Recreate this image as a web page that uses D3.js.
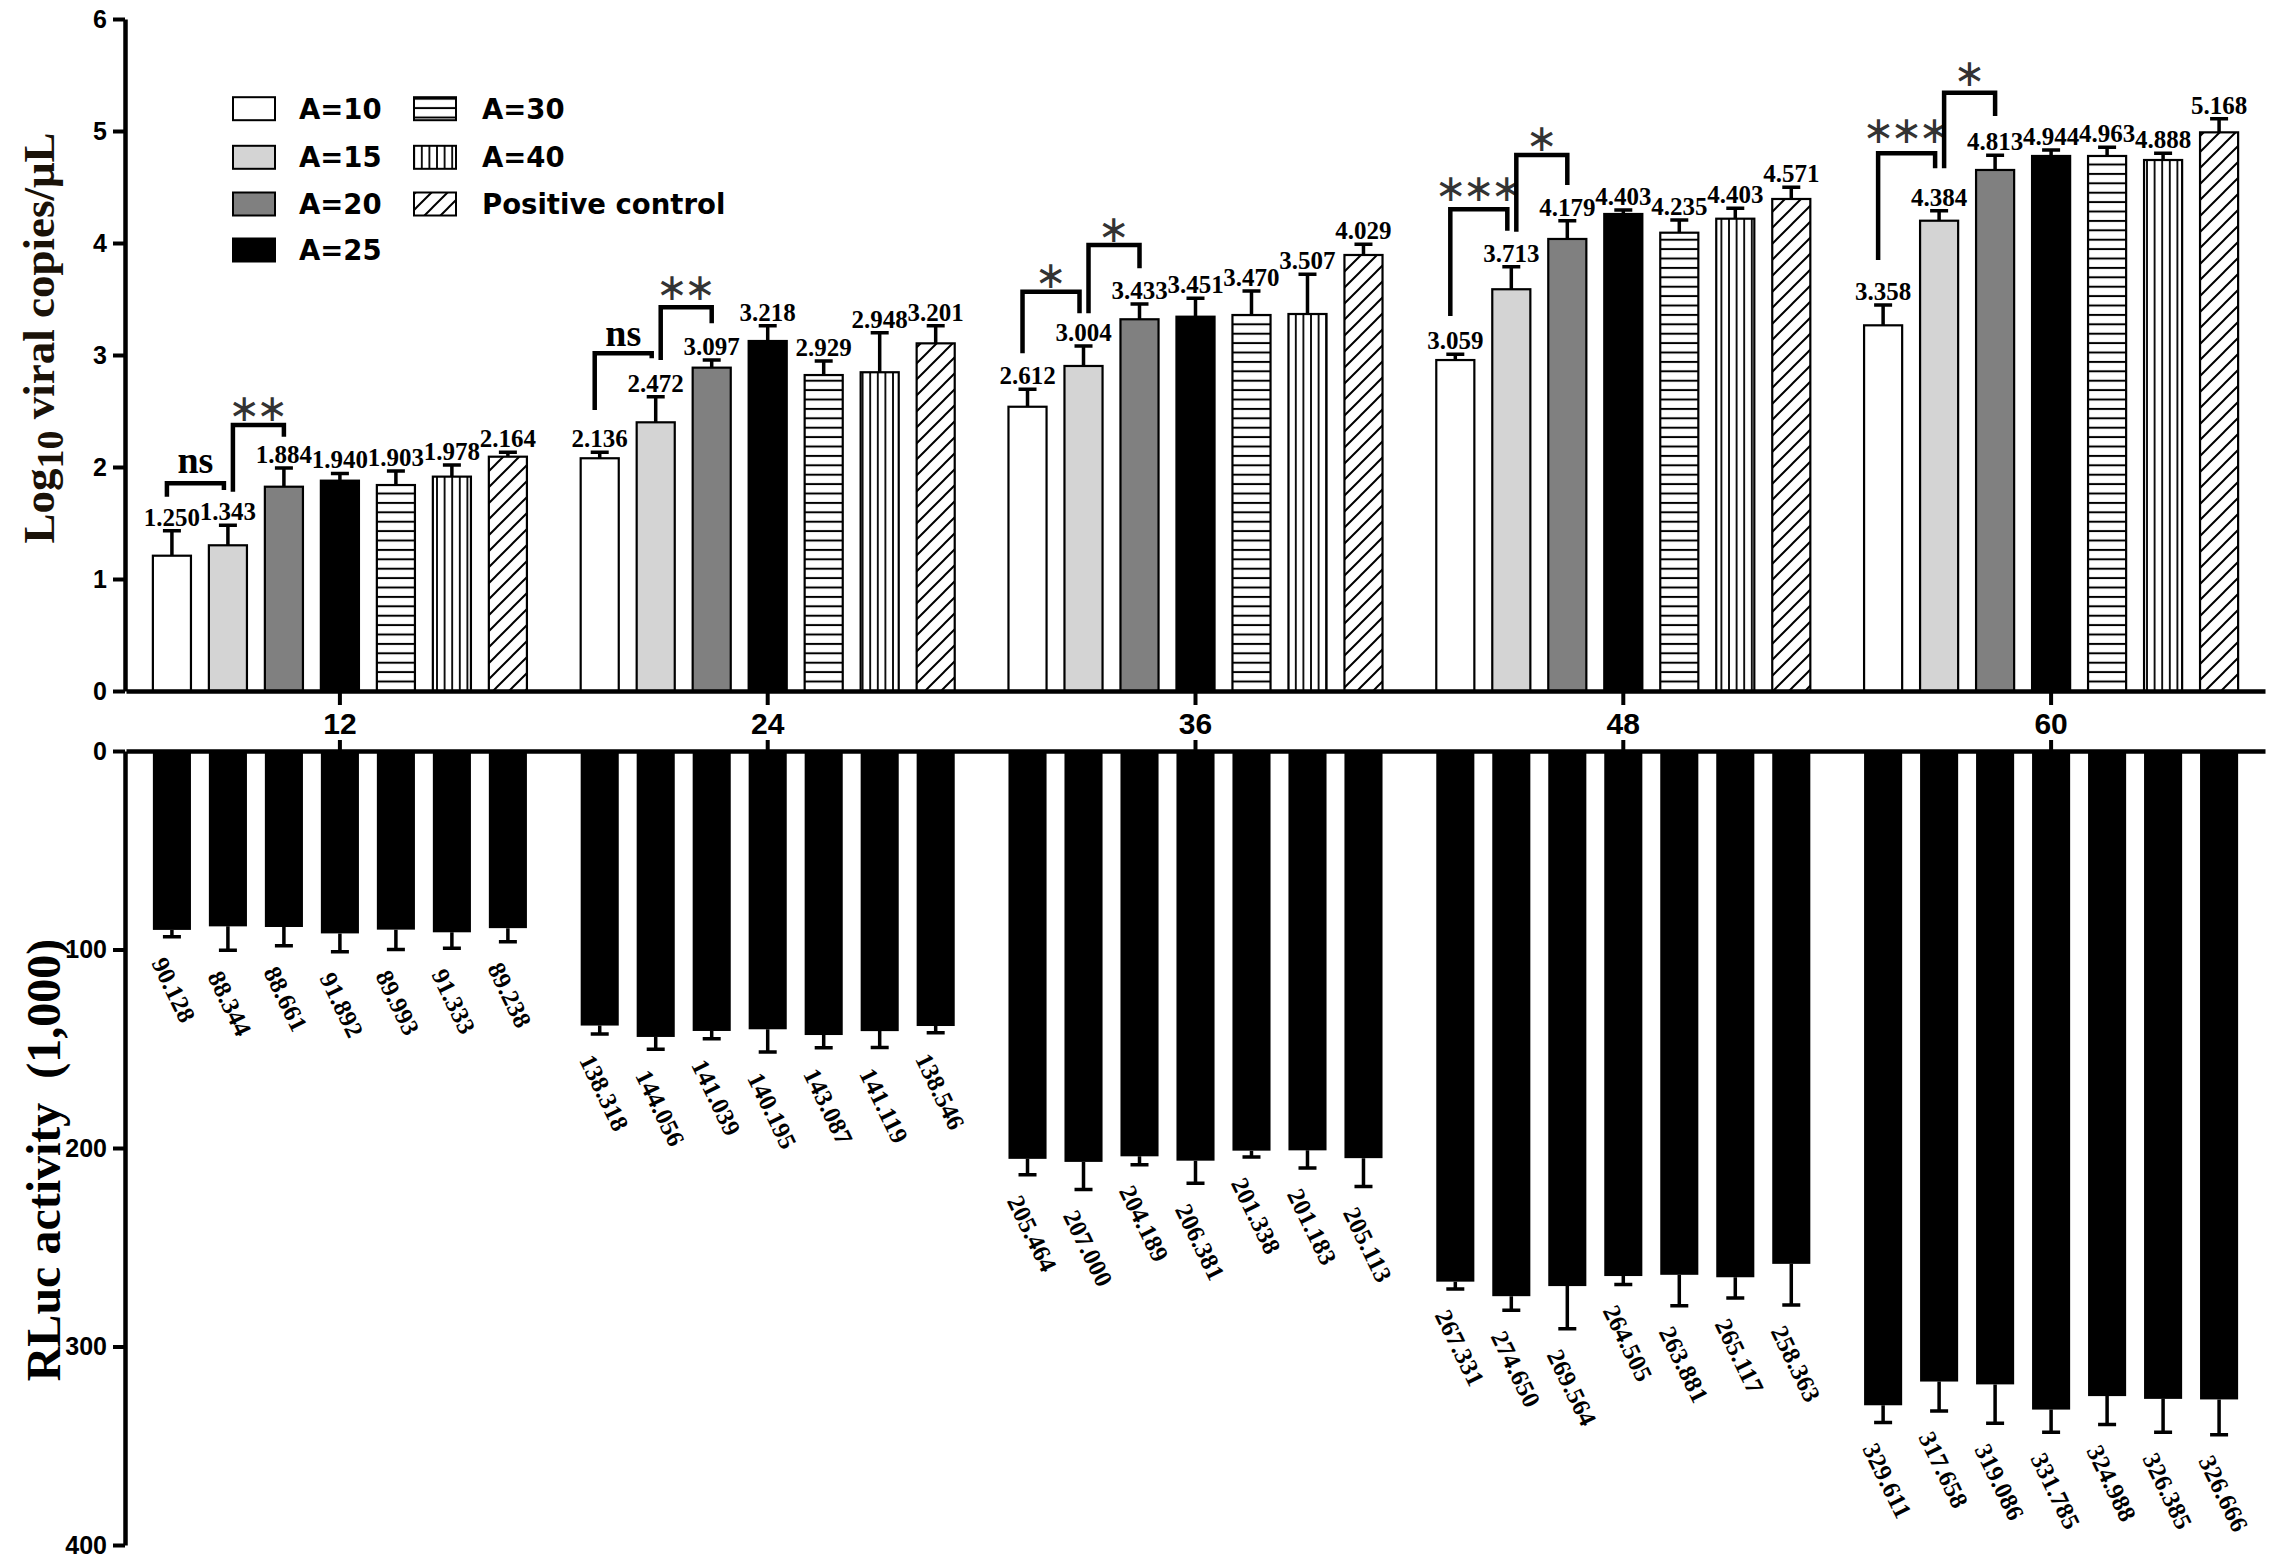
<!DOCTYPE html>
<html>
<head>
<meta charset="utf-8">
<script src="https://cdn.jsdelivr.net/npm/d3@7"></script>
<style>
body { margin: 0; background: #fff; }
</style>
</head>
<body>
<script>
// time points and groups
const times = ["12", "24", "36", "48", "60"];
const groups = ["A=10", "A=15", "A=20", "A=25", "A=30", "A=40", "Positive control"];

// upper panel, log10 viral copies/uL (bar height, error, printed label)
const logMean = [
  [1.208, 1.301, 1.824, 1.878, 1.839, 1.914, 2.092],
  [2.078, 2.399, 2.887, 3.125, 2.821, 2.846, 3.104],
  [2.538, 2.902, 3.319, 3.342, 3.357, 3.366, 3.893],
  [2.955, 3.587, 4.036, 4.259, 4.092, 4.217, 4.393],
  [3.265, 4.199, 4.652, 4.777, 4.777, 4.741, 4.988]
];
const logErr = [
  [0.223, 0.178, 0.167, 0.065, 0.125, 0.104, 0.039],
  [0.053, 0.229, 0.068, 0.137, 0.125, 0.353, 0.158],
  [0.156, 0.178, 0.136, 0.164, 0.214, 0.355, 0.095],
  [0.051, 0.201, 0.163, 0.036, 0.113, 0.093, 0.104],
  [0.181, 0.089, 0.131, 0.053, 0.077, 0.060, 0.122]
];
const logLabels = [
  ["1.250", "1.343", "1.884", "1.940", "1.903", "1.978", "2.164"],
  ["2.136", "2.472", "3.097", "3.218", "2.929", "2.948", "3.201"],
  ["2.612", "3.004", "3.433", "3.451", "3.470", "3.507", "4.029"],
  ["3.059", "3.713", "4.179", "4.403", "4.235", "4.403", "4.571"],
  ["3.358", "4.384", "4.813", "4.944", "4.963", "4.888", "5.168"]
];

// lower panel, RLuc activity (x1,000)
const rlucMean = [
  [90.128, 88.344, 88.661, 91.892, 89.993, 91.333, 89.238],
  [138.318, 144.056, 141.039, 140.195, 143.087, 141.119, 138.546],
  [205.464, 207.000, 204.189, 206.381, 201.338, 201.183, 205.113],
  [267.331, 274.650, 269.564, 264.505, 263.881, 265.117, 258.363],
  [329.611, 317.658, 319.086, 331.785, 324.988, 326.385, 326.666]
];
const rlucErr = [
  [3.4, 12.0, 9.4, 9.2, 10.0, 8.0, 6.9],
  [4.2, 6.2, 3.9, 11.4, 6.4, 8.2, 3.4],
  [8.0, 13.9, 4.2, 11.4, 3.2, 8.9, 14.3],
  [3.7, 7.1, 21.5, 4.2, 15.6, 10.4, 20.7],
  [8.7, 14.8, 19.6, 11.4, 14.3, 16.8, 17.8]
];
const rlucLabels = [
  ["90.128", "88.344", "88.661", "91.892", "89.993", "91.333", "89.238"],
  ["138.318", "144.056", "141.039", "140.195", "143.087", "141.119", "138.546"],
  ["205.464", "207.000", "204.189", "206.381", "201.338", "201.183", "205.113"],
  ["267.331", "274.650", "269.564", "264.505", "263.881", "265.117", "258.363"],
  ["329.611", "317.658", "319.086", "331.785", "324.988", "326.385", "326.666"]
];

const yTopTicks = [0, 1, 2, 3, 4, 5, 6];
const yBotTicks = [0, 100, 200, 300, 400];

// significance brackets (values in log10 units)
const sigTime  = ["12", "12", "24", "24", "36", "36", "48", "48", "60", "60"];
const sigFrom  = [0, 1, 0, 1, 0, 1, 0, 1, 0, 1];
const sigMarks = ["ns", "**", "ns", "**", "*", "*", "***", "*", "***", "*"];
const sigTop   = [1.854, 2.375, 3.015, 3.426, 3.565, 3.982, 4.301, 4.786, 4.801, 5.342];
const sigFootL = [1.735, 1.779, 2.509, 2.955, 3.015, 3.372, 3.348, 4.101, 3.848, 4.667];
const sigFootR = [1.795, 2.271, 2.971, 3.283, 3.372, 3.774, 4.110, 4.518, 4.667, 5.134];
const sigMarkY = [1.946, 2.527, 3.080, 3.610, 3.714, 4.122, 4.488, 4.938, 5.009, 5.515];

const W = 2272, H = 1556;
const serif = "'Liberation Serif','Times New Roman',serif";
const sans = "'Liberation Sans',Arial,sans-serif";

const svg = d3.select("body").append("svg")
  .attr("width", W).attr("height", H)
  .style("background", "#fff");

const defs = svg.append("defs");
const hl = defs.append("pattern").attr("id", "hl").attr("patternUnits", "userSpaceOnUse")
  .attr("width", 10).attr("height", 9.4);
hl.append("rect").attr("width", 10).attr("height", 9.4).attr("fill", "#fff");
hl.append("line").attr("x1", 0).attr("x2", 10).attr("y1", 4.7).attr("y2", 4.7)
  .attr("stroke", "#000").attr("stroke-width", 2);
const vl = defs.append("pattern").attr("id", "vl").attr("patternUnits", "userSpaceOnUse")
  .attr("width", 7.6).attr("height", 10);
vl.append("rect").attr("width", 7.6).attr("height", 10).attr("fill", "#fff");
vl.append("line").attr("x1", 3.8).attr("x2", 3.8).attr("y1", 0).attr("y2", 10)
  .attr("stroke", "#000").attr("stroke-width", 1.8);
const dg = defs.append("pattern").attr("id", "dg").attr("patternUnits", "userSpaceOnUse")
  .attr("width", 16).attr("height", 16);
dg.append("rect").attr("width", 16).attr("height", 16).attr("fill", "#fff");
dg.append("path").attr("d", "M-4,4L4,-4M0,16L16,0M12,20L20,12")
  .attr("stroke", "#000").attr("stroke-width", 2);

const fills = ["#fff", "#d4d4d4", "#808080", "#000", "url(#hl)", "url(#vl)", "url(#dg)"];
const fill = d3.scaleOrdinal().domain(groups).range(fills);

const x0 = d3.scaleBand().domain(times).range([126, 2265]);
const x1 = d3.scaleBand().domain(groups).range([0, x0.bandwidth()])
  .paddingInner(0.32).paddingOuter(0.48);
const yTop = d3.scaleLinear().domain([0, 6]).range([691, 19]);
const yBot = d3.scaleLinear().domain([0, 400]).range([751, 1545]);

const cx = (t, g) => x0(t) + x1(g) + x1.bandwidth() / 2;

// flatten for joins
const topData = [], botData = [];
times.forEach((t, i) => groups.forEach((g, j) => {
  topData.push({t, g, v: logMean[i][j], e: logErr[i][j], lab: logLabels[i][j]});
  botData.push({t, g, v: rlucMean[i][j], e: rlucErr[i][j], lab: rlucLabels[i][j]});
}));

// ---- upper bars
const upper = svg.append("g");
upper.selectAll("rect").data(topData).join("rect")
  .attr("x", d => x0(d.t) + x1(d.g))
  .attr("y", d => yTop(d.v))
  .attr("width", x1.bandwidth())
  .attr("height", d => yTop(0) - yTop(d.v))
  .attr("fill", d => fill(d.g))
  .attr("stroke", "#000").attr("stroke-width", 2.2);

upper.selectAll("path.err").data(topData).join("path").attr("class", "err")
  .attr("d", d => {
    const x = cx(d.t, d.g), y1 = yTop(d.v), y2 = yTop(d.v + d.e);
    return `M${x},${y1}V${y2}M${x - 9},${y2}H${x + 9}`;
  })
  .attr("stroke", "#000").attr("stroke-width", 3.5).attr("fill", "none");

upper.selectAll("text").data(topData).join("text")
  .attr("x", d => cx(d.t, d.g))
  .attr("y", d => yTop(d.v + d.e) - 5)
  .attr("text-anchor", "middle")
  .style("font-family", serif).style("font-weight", "bold").style("font-size", "25px")
  .text(d => d.lab);

// ---- lower bars
const lower = svg.append("g");
lower.selectAll("rect").data(botData).join("rect")
  .attr("x", d => x0(d.t) + x1(d.g))
  .attr("y", yBot(0))
  .attr("width", x1.bandwidth())
  .attr("height", d => yBot(d.v) - yBot(0))
  .attr("fill", "#000");

lower.selectAll("path.err").data(botData).join("path").attr("class", "err")
  .attr("d", d => {
    const x = cx(d.t, d.g), y1 = yBot(d.v), y2 = yBot(d.v + d.e);
    return `M${x},${y1}V${y2}M${x - 9},${y2}H${x + 9}`;
  })
  .attr("stroke", "#000").attr("stroke-width", 3.5).attr("fill", "none");

lower.selectAll("text").data(botData).join("text")
  .attr("transform", d => `translate(${cx(d.t, d.g) - 21},${yBot(d.v + d.e) + 26}) rotate(64)`)
  .style("font-family", serif).style("font-weight", "bold").style("font-size", "25px")
  .text(d => d.lab);

// ---- significance brackets
const sig = svg.append("g");
sigTime.forEach((t, k) => {
  const a = groups[sigFrom[k]], b = groups[sigFrom[k] + 1];
  const xl = k % 2 === 0 ? cx(t, a) - 5 : cx(t, a) + 5;
  const xr = k % 2 === 0 ? cx(t, b) - 4 : cx(t, b);
  sig.append("path")
    .attr("d", `M${xl},${yTop(sigFootL[k])}V${yTop(sigTop[k])}H${xr}V${yTop(sigFootR[k])}`)
    .attr("fill", "none").attr("stroke", "#000").attr("stroke-width", 4.5);
  const m = sigMarks[k];
  if (m === "ns") {
    sig.append("text").attr("x", (xl + xr) / 2).attr("y", yTop(sigMarkY[k]))
      .attr("text-anchor", "middle")
      .style("font-family", serif).style("font-weight", "bold").style("font-size", "38px")
      .text(m);
  } else {
    // one glyph per star so the spacing stays tight
    const n = m.length, gap = 28, xm = (xl + xr) / 2;
    d3.range(n).forEach(s => {
      sig.append("text")
        .attr("x", xm + (s - (n - 1) / 2) * gap).attr("y", yTop(sigMarkY[k]))
        .attr("text-anchor", "middle").attr("dominant-baseline", "central")
        .style("font-family", "'DejaVu Sans',sans-serif").style("font-size", "38px")
        .attr("fill", "#333")
        .text("\u2217");
    });
  }
});

// ---- axes
function styleAxis(g, fs) {
  g.select(".domain").attr("stroke-width", 4.5);
  g.selectAll(".tick line").attr("stroke-width", 4);
  g.selectAll(".tick text").style("font-family", sans).style("font-weight", "bold")
    .style("font-size", fs).attr("fill", "#000");
}

svg.append("g").attr("transform", "translate(0,691)")
  .call(d3.axisBottom(x0).tickSize(14).tickSizeOuter(0).tickPadding(8))
  .call(g => styleAxis(g, "30px"));
svg.append("g").attr("transform", "translate(0,751)")
  .call(d3.axisTop(x0).tickSize(11).tickSizeOuter(0).tickFormat(""))
  .call(g => styleAxis(g, "30px"));
svg.append("g").attr("transform", "translate(125,0)")
  .call(d3.axisLeft(yTop).tickValues(yTopTicks).tickFormat(d3.format("d"))
    .tickSize(12).tickSizeOuter(0).tickPadding(6))
  .call(g => styleAxis(g, "25px"));
svg.append("g").attr("transform", "translate(125,0)")
  .call(d3.axisLeft(yBot).tickValues(yBotTicks).tickFormat(d3.format("d"))
    .tickSize(12).tickSizeOuter(0).tickPadding(6))
  .call(g => styleAxis(g, "25px"));

// axis titles
const t1 = svg.append("text").attr("transform", "translate(54,338) rotate(-90)")
  .attr("text-anchor", "middle")
  .style("font-family", serif).style("font-weight", "bold").style("font-size", "45px")
  .attr("fill", "#1a1208");
t1.append("tspan").text("Log");
t1.append("tspan").attr("dy", 9).style("font-size", "38px").text("10");
t1.append("tspan").attr("dy", -9).text(" viral copies/\u03bcL");

const t2 = svg.append("text").attr("transform", "translate(60,1160) rotate(-90)")
  .attr("text-anchor", "middle")
  .style("font-family", serif).style("font-weight", "bold").style("font-size", "48px");
t2.append("tspan").text("RLuc activity ");
t2.append("tspan").attr("dx", 12).text("(1,000)");

// ---- legend
const legX = [233, 414];
const legTextX = [299, 482];
const legRowY = [108.7, 157.3, 204, 250];
const legend = svg.append("g");
groups.forEach((g, i) => {
  const col = i < 4 ? 0 : 1, row = i < 4 ? i : i - 4;
  legend.append("rect")
    .attr("x", legX[col]).attr("y", legRowY[row] - 11.5)
    .attr("width", 42).attr("height", 23)
    .attr("fill", fill(g)).attr("stroke", "#000").attr("stroke-width", 2);
  legend.append("text")
    .attr("x", legTextX[col]).attr("y", legRowY[row] + 10)
    .style("font-family", "'DejaVu Sans',sans-serif").style("font-weight", "bold")
    .style("font-size", "27.5px")
    .text(g);
});
</script>
</body>
</html>
